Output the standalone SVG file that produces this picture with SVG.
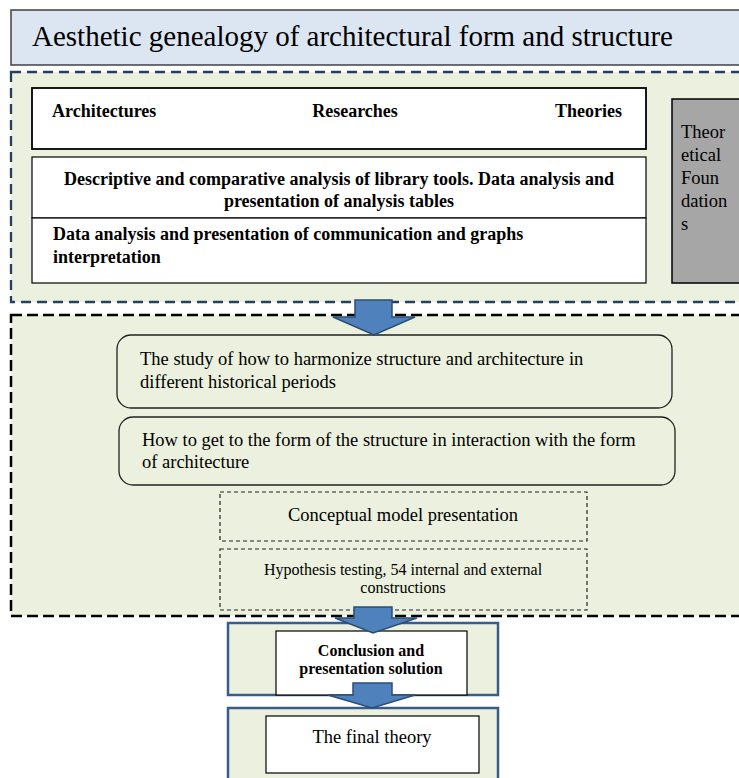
<svg xmlns="http://www.w3.org/2000/svg" width="739" height="778" viewBox="0 0 739 778">
<style>
text{font-family:"Liberation Serif","Times New Roman",serif;fill:#000}
.b{font-weight:bold;font-size:18px}
.r{font-size:18.5px}
.s{font-size:16px}
.c{text-anchor:middle}
.region{fill:#ebf1de}
.wb{fill:#fff;stroke:#000}
.arrow{fill:#4f81bd;stroke:#2c4d75;stroke-width:1.5;stroke-linejoin:miter}
.frame{fill:#ebf1de;stroke:#385d8a;stroke-width:2.5}
.small{fill:none;stroke:#222;stroke-width:1.2;stroke-dasharray:4 3}
.round{fill:#ebf1de;stroke:#222;stroke-width:1.3}
</style>
<rect width="739" height="778" fill="#fff"/>
<g id="title">
<rect x="11" y="10" width="735" height="55" fill="#dce6f2" stroke="#404040" stroke-width="1.5"/>
<text x="32" y="46" font-size="29">Aesthetic genealogy of architectural form and structure</text>
</g>
<g id="region1">
<rect x="11" y="72" width="735" height="230" class="region" stroke="#243f60" stroke-width="2.3" stroke-dasharray="10 6"/>
</g>
<g id="region2">
<rect x="11" y="315" width="735" height="301" class="region" stroke="#000" stroke-width="2.5" stroke-dasharray="11 5"/>
</g>
<g id="header">
<rect x="32" y="88" width="614" height="61" class="wb" stroke-width="1.8"/>
<text class="b" x="52" y="117">Architectures</text>
<text class="b c" x="355" y="117">Researches</text>
<text class="b" x="622" y="117" text-anchor="end">Theories</text>
</g>
<g id="analysis1">
<rect x="32" y="157" width="614" height="61" class="wb" stroke-width="1.2"/>
<text class="b c" x="339" y="185">Descriptive and comparative analysis of library tools. Data analysis and</text>
<text class="b c" x="339" y="207">presentation of analysis tables</text>
</g>
<g id="analysis2">
<rect x="32" y="218" width="614" height="65" class="wb" stroke-width="1.2"/>
<text class="b" x="53" y="240">Data analysis and presentation of communication and graphs</text>
<text class="b" x="53" y="263">interpretation</text>
</g>
<g id="foundations">
<rect x="672" y="99" width="70" height="184" fill="#a6a6a6" stroke="#000" stroke-width="1.5"/>
<text class="r" x="681" y="138">Theor</text>
<text class="r" x="681" y="161">etical</text>
<text class="r" x="681" y="184">Foun</text>
<text class="r" x="681" y="207">dation</text>
<text class="r" x="681" y="230">s</text>
</g>
<g id="study">
<rect x="117" y="335" width="555" height="73" rx="14" class="round"/>
<text class="r" x="140" y="365">The study of how to harmonize structure and architecture in</text>
<text class="r" x="140" y="388">different historical periods</text>
</g>
<g id="form">
<rect x="119" y="417" width="556" height="68" rx="14" class="round"/>
<text class="r" x="142" y="446">How to get to the form of the structure in interaction with the form</text>
<text class="r" x="142" y="468">of architecture</text>
</g>
<g id="conceptual">
<rect x="220" y="492" width="367" height="49" class="small"/>
<text class="r c" x="403" y="521">Conceptual model presentation</text>
</g>
<g id="hypothesis">
<rect x="220" y="549" width="367" height="61" class="small"/>
<text class="s c" x="403" y="575">Hypothesis testing, 54 internal and external</text>
<text class="s c" x="403" y="593">constructions</text>
</g>
<g id="conclusion">
<rect x="228" y="623" width="270" height="72" class="frame"/>
<rect x="276" y="631" width="191" height="64" class="wb" stroke-width="1.2"/>
<text class="c" x="371" y="656" font-size="16" font-weight="bold">Conclusion and</text>
<text class="c" x="371" y="674" font-size="16" font-weight="bold">presentation solution</text>
</g>
<g id="final">
<rect x="228" y="708" width="270" height="75" class="frame"/>
<rect x="266" y="716" width="213" height="57" class="wb" stroke-width="1.2"/>
<text class="r c" x="372" y="743">The final theory</text>
</g>
<g id="connectors">
<polygon class="arrow" points="355,300 392,300 392,317 415,317 374,335 333,317 355,317"/>
<polygon class="arrow" points="354,607 392,607 392,618 417,618 373,633 335,618 354,618"/>
<polygon class="arrow" points="353,683 392,683 392,695 415,695 372,708 328,695 353,695"/>
</g>
</svg>
